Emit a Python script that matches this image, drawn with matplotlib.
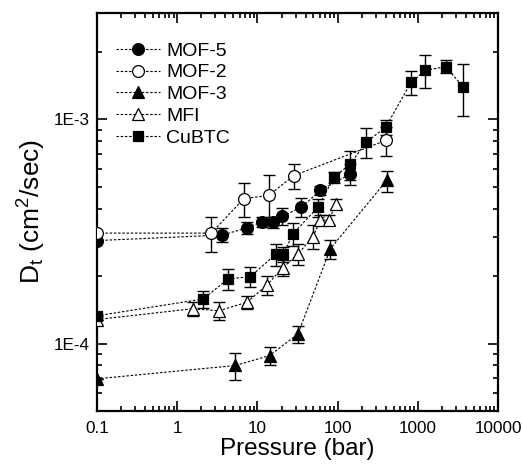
import matplotlib
matplotlib.use("Agg")
import matplotlib.pyplot as plt
from matplotlib.ticker import LogLocator, FixedLocator, FuncFormatter, NullFormatter
import numpy as np

plt.rcParams['font.family'] = ['Liberation Sans', 'DejaVu Sans']
plt.rcParams['mathtext.default'] = 'regular'

# ---- data ----
mof5_p = [0.1, 3.66, 7.36, 11.4, 15.6, 20.3, 35.4, 61.0, 144]
mof5_d = [2.88e-4, 3.05e-4, 3.28e-4, 3.49e-4, 3.47e-4, 3.69e-4, 4.06e-4, 4.82e-4, 5.71e-4]
mof5_e = [0, 0.07, 0.06, 0.05, 0.056, 0.086, 0.097, 0.05, 0.11]

mof2_p = [0.1, 2.67, 6.75, 13.8, 28.6, 398]
mof2_d = [3.11e-4, 3.11e-4, 4.43e-4, 4.58e-4, 5.62e-4, 8.06e-4]
mof2_e = [0, 0.175, 0.17, 0.23, 0.128, 0.15]

mof3_p = [0.1, 5.32, 14.2, 32.1, 81.3, 409]
mof3_d = [6.96e-5, 7.98e-5, 8.84e-5, 1.105e-4, 2.65e-4, 5.34e-4]
mof3_e = [0, 0.135, 0.09, 0.086, 0.097, 0.108]

mfi_p = [0.1, 1.57, 3.32, 7.46, 13.2, 20.9, 32.1, 49.4, 61.0, 78.1, 94.7]
mfi_d = [1.28e-4, 1.43e-4, 1.40e-4, 1.53e-4, 1.83e-4, 2.18e-4, 2.51e-4, 3.0e-4, 3.55e-4, 3.55e-4, 4.2e-4]
mfi_e = [0, 0.07, 0.09, 0.07, 0.097, 0.078, 0.11, 0.123, 0.05, 0.05, 0.05]

cubtc_p = [0.1, 2.10, 4.30, 8.18, 16.9, 20.9, 27.8, 57.0, 90.2, 142, 229, 398, 828, 1244, 2228, 3661]
cubtc_d = [1.33e-4, 1.58e-4, 1.94e-4, 1.99e-4, 2.50e-4, 2.50e-4, 3.09e-4, 4.06e-4, 5.52e-4,
           6.30e-4, 7.93e-4, 9.24e-4, 1.467e-3, 1.655e-3, 1.72e-3, 1.40e-3]
cubtc_e = [0, 0.09, 0.11, 0.10, 0.116, 0.075, 0.115, 0.093, 0.053, 0.147, 0.15, 0.08,
           0.12, 0.167, 0.067, 0.26]

x_ticks = [0.1, 1, 10, 100, 1000, 10000]
x_tick_labels = ['0.1', '1', '10', '100', '1000', '10000']
y_ticks = [1e-4, 1e-3]
y_tick_labels = ['1E-4', '1E-3']

series = [
    ("MOF-5", mof5_p, mof5_d, mof5_e, 'o', 'black', 8.5),
    ("MOF-2", mof2_p, mof2_d, mof2_e, 'o', 'white', 8.5),
    ("MOF-3", mof3_p, mof3_d, mof3_e, '^', 'black', 9),
    ("MFI", mfi_p, mfi_d, mfi_e, '^', 'white', 9),
    ("CuBTC", cubtc_p, cubtc_d, cubtc_e, 's', 'black', 7.5),
]

fig = plt.figure(figsize=(5.22, 4.68), dpi=100)
ax = fig.add_axes([97/522, 1 - 411/468, (498-97)/522, (411-12.5)/468])

for name, p, d, e, m, fc, ms in series:
    d = np.array(d)
    err = d * np.array(e)
    ax.errorbar(p, d, yerr=err, fmt='none', ecolor='black', elinewidth=1.0,
                capsize=4.5, capthick=1.0, zorder=2)
    ax.plot(p, d, linestyle=(0, (2.2, 1.6)), color='black', linewidth=0.8,
            marker=m, markersize=ms, markerfacecolor=fc, markeredgecolor='black',
            markeredgewidth=0.9, label=name, zorder=3, clip_on=True)

ax.set_xscale('log')
ax.set_yscale('log')
ax.set_xlim(0.1, 10000)
ax.set_ylim(5e-5, 3e-3)

ax.xaxis.set_major_locator(FixedLocator(x_ticks))
ax.set_xticklabels(x_tick_labels)
ax.xaxis.set_minor_locator(LogLocator(base=10, subs=np.arange(2, 10), numticks=20))
ax.xaxis.set_minor_formatter(NullFormatter())

ax.yaxis.set_major_locator(FixedLocator(y_ticks))
ax.set_yticklabels(y_tick_labels)
ax.yaxis.set_minor_locator(LogLocator(base=10, subs=np.arange(2, 10), numticks=20))
ax.yaxis.set_minor_formatter(NullFormatter())

ax.tick_params(which='both', direction='in', top=True, right=True, width=1.2, labelsize=12.3)
ax.tick_params(which='major', length=7)
ax.tick_params(which='minor', length=3.5)
ax.tick_params(axis='x', which='major', pad=7)
ax.tick_params(axis='y', which='major', pad=5)
for s in ax.spines.values():
    s.set_linewidth(1.6)

ax.set_xlabel('Pressure (bar)', fontsize=17.5, labelpad=2)
ax.set_ylabel('D$_t$ (cm$^2$/sec)', fontsize=19, labelpad=4)

leg = ax.legend(loc='upper left', frameon=False, fontsize=14, numpoints=1,
                handlelength=2.25, handletextpad=0.3, labelspacing=0.22,
                borderaxespad=0.6, bbox_to_anchor=(0.0, 0.975))

fig.savefig('out.png', dpi=100)
